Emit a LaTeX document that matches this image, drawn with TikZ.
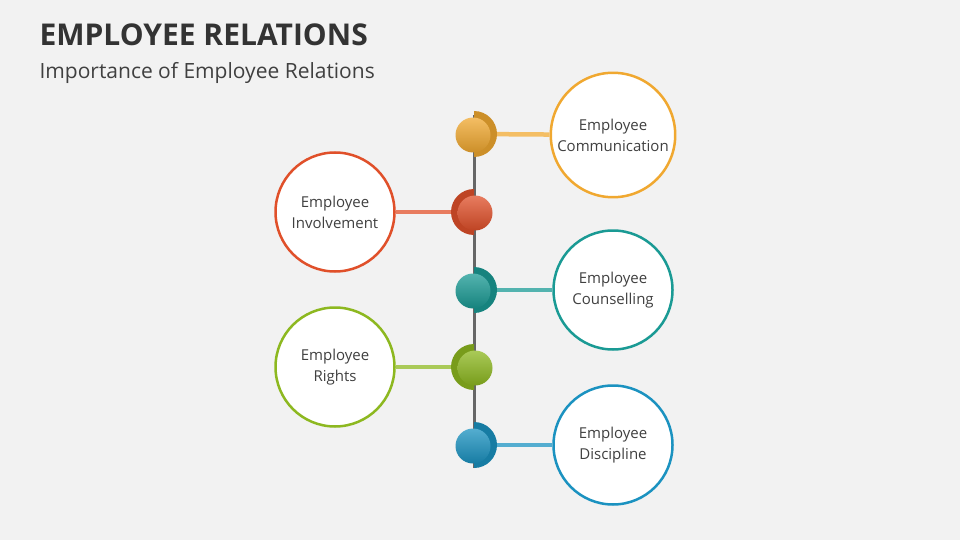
\documentclass[tikz,border=0pt]{standalone}
\usepackage{fontspec}
\setmainfont{Open Sans}
\begin{document}
\begin{tikzpicture}[x=1pt,y=-1pt,
  circ/.style={circle,draw=#1,line width=2.5pt,fill=white,minimum size=119pt,align=center,font=\fontsize{15}{21}\selectfont,text=black!75},
  conn/.style={line width=4.5pt,#1}]
\definecolor{cO}{HTML}{F0A830}\definecolor{cR}{HTML}{E0502A}\definecolor{cT}{HTML}{1A9A94}
\definecolor{cG}{HTML}{8DB820}\definecolor{cB}{HTML}{1B92C0}
\fill[gray!10] (0,0) rectangle (960,540);
\useasboundingbox (0,0) rectangle (960,540);
\node[anchor=west,font=\fontsize{30}{36}\selectfont\bfseries,text=black!80] (t) at (36,35) {EMPLOYEE RELATIONS};
\node[anchor=west,font=\fontsize{21}{25}\selectfont,text=black!75] (s) at (36,73) {Importance of Employee Relations};
\coordinate (top) at (474,115); \coordinate (bot) at (474,468);
\draw[line width=3pt,gray!80!black] (top) -- (bot);
\node[circ=cO] (c1) at (613,135) {Employee\\Communication};
\node[circ=cR] (c2) at (335,212) {Employee\\Involvement};
\node[circ=cT] (c3) at (613,290) {Employee\\Counselling};
\node[circ=cG] (c4) at (335,367) {Employee\\Rights};
\node[circ=cB] (c5) at (613,445) {Employee\\Discipline};
\foreach \y/\c/\s/\n in {134/cO/1/c1,212/cR/-1/c2,290/cT/1/c3,367/cG/-1/c4,445/cB/1/c5}{
  \coordinate (b\n) at (474,\y);
  \draw[conn={\c!75}] (b\n) -- (\n);
  \fill[\c!85!black] (474,\y-23) arc[start angle=-90,end angle=-90+\s*180,radius=23] -- cycle;
  \shade[top color=\c!75,bottom color=\c!85!black] (474-\s*1,\y+1) circle (17.5);
}
\end{tikzpicture}
\end{document}
